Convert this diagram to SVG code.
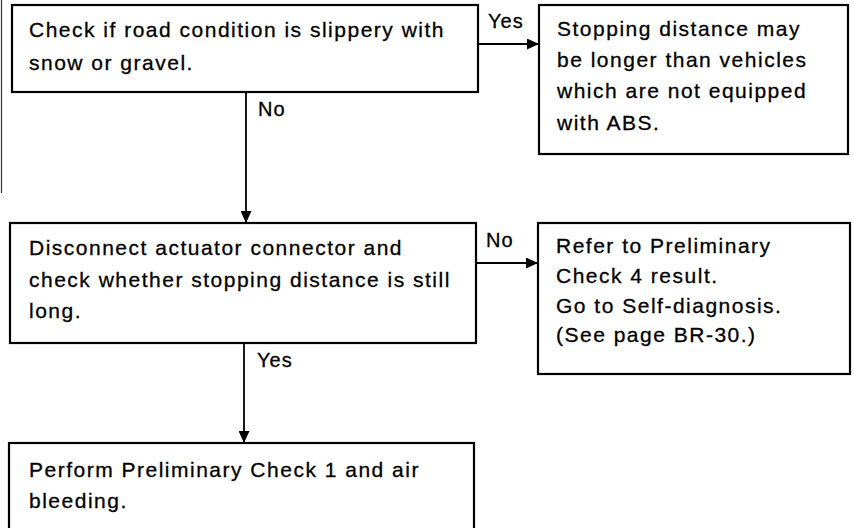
<svg xmlns="http://www.w3.org/2000/svg" width="854" height="528" viewBox="0 0 854 528">
  <style>
    .box { fill: #fff; stroke: #000; stroke-width: 2.2; }
    .txt { font-family: "Liberation Sans", Arial, sans-serif; font-size: 21px; letter-spacing: 1.5px; fill: #000; stroke: #000; stroke-width: 0.3; }
    .lbl { font-family: "Liberation Sans", Arial, sans-serif; font-size: 20px; letter-spacing: 1px; fill: #000; stroke: #000; stroke-width: 0.3; }
    .conn { stroke: #000; stroke-width: 1.8; fill: none; marker-end: url(#arrow); }
  </style>
  <defs>
    <marker id="arrow" markerUnits="userSpaceOnUse" markerWidth="13" markerHeight="11" refX="12" refY="5.5" orient="auto">
      <path d="M0,0 L12,5.5 L0,11 Z" fill="#000"/>
    </marker>
  </defs>
  <rect width="854" height="528" fill="#fff"/>

  <!-- left page edge -->
  <line x1="1.5" y1="0" x2="1.5" y2="193" stroke="#333" stroke-width="1.2"/>

  <g id="connectors">
    <line class="conn" x1="478" y1="44" x2="539" y2="44"/>
    <line class="conn" x1="246" y1="92" x2="246" y2="223"/>
    <line class="conn" x1="476" y1="263" x2="538" y2="263"/>
    <line class="conn" x1="244" y1="343" x2="244" y2="443"/>
    <text class="lbl" x="488" y="28">Yes</text>
    <text class="lbl" x="258" y="116">No</text>
    <text class="lbl" x="486" y="247">No</text>
    <text class="lbl" x="257" y="367">Yes</text>
  </g>

  <g id="check-road">
    <rect class="box" x="12" y="5" width="466" height="87"/>
    <text class="txt" x="29" y="37">Check if road condition is slippery with</text>
    <text class="txt" x="29" y="70">snow or gravel.</text>
  </g>

  <g id="stopping-distance">
    <rect class="box" x="539" y="5" width="309" height="149"/>
    <text class="txt" x="557" y="36">Stopping distance may</text>
    <text class="txt" x="557" y="67">be longer than vehicles</text>
    <text class="txt" x="557" y="98">which are not equipped</text>
    <text class="txt" x="557" y="130">with ABS.</text>
  </g>

  <g id="disconnect-actuator">
    <rect class="box" x="10" y="223" width="466" height="120"/>
    <text class="txt" x="29" y="255">Disconnect actuator connector and</text>
    <text class="txt" x="29" y="287">check whether stopping distance is still</text>
    <text class="txt" x="29" y="318">long.</text>
  </g>

  <g id="self-diagnosis">
    <rect class="box" x="538" y="223" width="312" height="151"/>
    <text class="txt" x="556" y="253">Refer to Preliminary</text>
    <text class="txt" x="556" y="283">Check 4 result.</text>
    <text class="txt" x="556" y="313">Go to Self-diagnosis.</text>
    <text class="txt" x="556" y="342">(See page BR-30.)</text>
  </g>

  <g id="preliminary-check">
    <rect class="box" x="9" y="443" width="465" height="100"/>
    <text class="txt" x="29" y="477">Perform Preliminary Check 1 and air</text>
    <text class="txt" x="29" y="508">bleeding.</text>
  </g>
</svg>
